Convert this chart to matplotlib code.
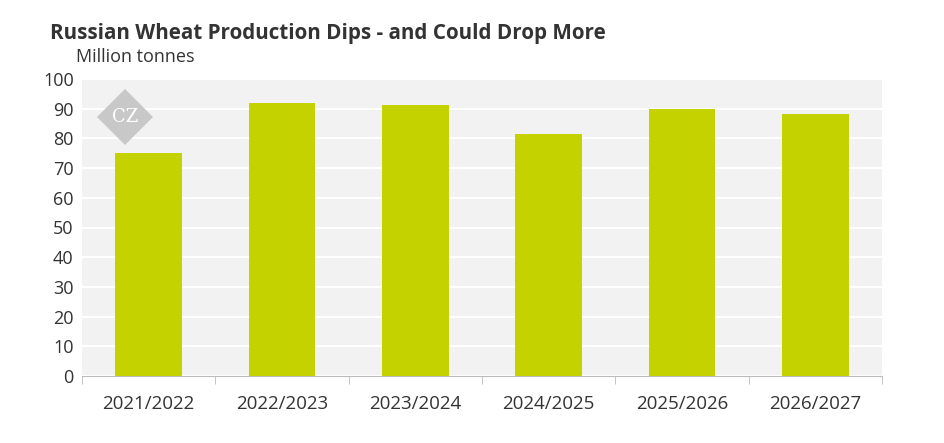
import matplotlib.pyplot as plt
from matplotlib.patches import Polygon

seasons = ['2021/2022', '2022/2023', '2023/2024', '2024/2025', '2025/2026', '2026/2027']
production = [75.1, 91.9, 91.2, 81.5, 89.9, 88.2]

plt.rcParams['font.family'] = ['Open Sans', 'DejaVu Sans']

fig = plt.figure(figsize=(9.45, 4.43), dpi=100)
ax = fig.add_axes([82 / 945, 1 - 376 / 443, 800 / 945, 297 / 443])
ax.set_facecolor('#f2f2f2')

x = range(len(seasons))
ax.bar(x, production, width=0.5, color='#c4d300', zorder=3)

ax.set_xlim(-0.5, len(seasons) - 0.5)
ax.set_ylim(0, 100)
ax.set_yticks(range(0, 101, 10))
ax.grid(axis='y', color='white', linewidth=1.5, zorder=1)
ax.set_xticks(list(x))
ax.set_xticklabels(seasons)
ax.set_xticks([i - 0.5 for i in range(len(seasons) + 1)], minor=True)
ax.tick_params(axis='x', which='major', length=0, pad=14, labelsize=13.5, colors='#333333')
ax.tick_params(axis='x', which='minor', length=6, color='#bbbbbb')
ax.tick_params(axis='y', length=0, labelsize=13, colors='#333333', pad=6)
for s in ['top', 'right', 'left']:
    ax.spines[s].set_visible(False)
ax.spines['bottom'].set_color('#bbbbbb')

# logo diamond, in inches
cx, cy, r = 1.25, (443 - 117) / 100, 0.28
logo = Polygon([(cx, cy + r), (cx + r, cy), (cx, cy - r), (cx - r, cy)], closed=True,
               transform=fig.dpi_scale_trans, facecolor='#c8c8c8', edgecolor='none', zorder=5)
fig.patches.append(logo)
fig.text(cx / 9.45, cy / 4.43, 'CZ', ha='center', va='center', color='white',
         fontsize=13, family='DejaVu Serif', zorder=6)

fig.text(50 / 945, 1 - 34 / 443, 'Russian Wheat Production Dips - and Could Drop More',
         fontsize=14.9, fontweight='bold', color='#333333', va='center')
fig.text(76 / 945, 1 - 57 / 443, 'Million tonnes', fontsize=13, color='#333333', va='center')

fig.savefig('out.png', dpi=100)
